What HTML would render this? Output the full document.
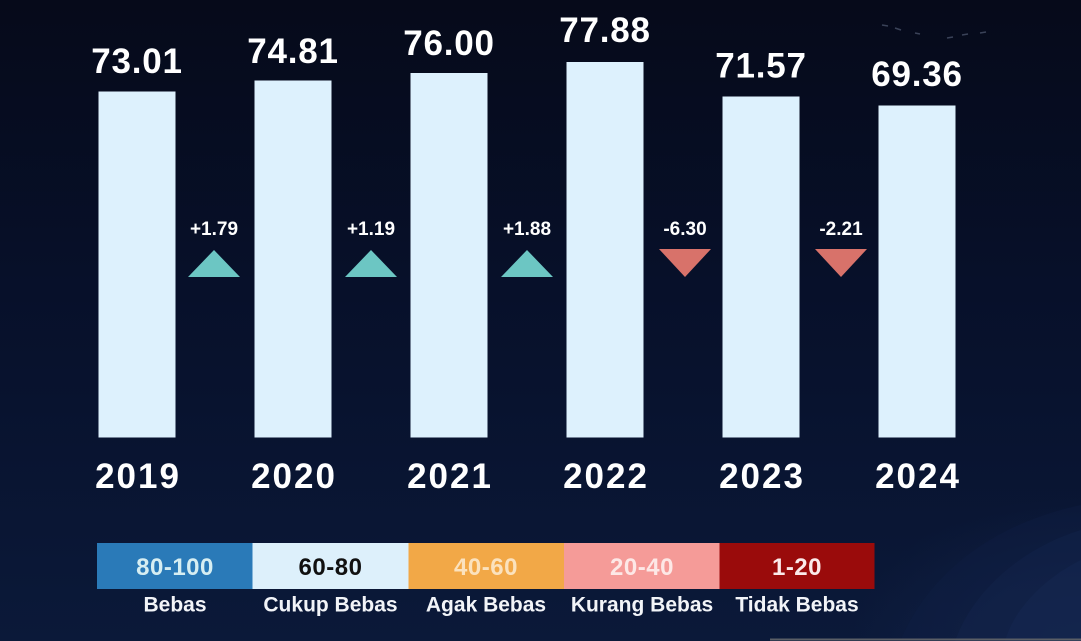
<!DOCTYPE html>
<html>
<head>
<meta charset="utf-8">
<style>
  html, body { margin:0; padding:0; }
  body { width:1081px; height:641px; overflow:hidden; background:#070c1f; }
  svg { display:block; }
  text { font-family: "Liberation Sans", "DejaVu Sans", sans-serif; font-weight:bold; }
</style>
</head>
<body>
<svg width="1081" height="641" viewBox="0 0 1081 641" xmlns="http://www.w3.org/2000/svg">
  <defs>
    <linearGradient id="bg" x1="0" y1="0" x2="0" y2="1">
      <stop offset="0" stop-color="#060a1a"/>
      <stop offset="0.45" stop-color="#07102a"/>
      <stop offset="1" stop-color="#0b1939"/>
    </linearGradient>
    <radialGradient id="glow" cx="1" cy="1" r="0.6">
      <stop offset="0" stop-color="#1a2c55" stop-opacity="0.55"/>
      <stop offset="1" stop-color="#1a2c55" stop-opacity="0"/>
    </radialGradient>
  </defs>
  <rect width="1081" height="641" fill="url(#bg)"/>
  <rect x="700" y="400" width="381" height="241" fill="url(#glow)"/>
  <!-- decorative curves bottom right -->
  <path d="M1081 505 C1010 520 935 560 900 641 L1081 641 Z" fill="#0f1f44" opacity="0.4"/>
  <path d="M1081 530 C1030 545 975 585 955 641 L1081 641 Z" fill="#13264d" opacity="0.4"/>
  <path d="M1081 560 C1050 575 1015 605 1005 641 L1081 641 Z" fill="#172b55" opacity="0.35"/>
  <line x1="770" y1="639.5" x2="1081" y2="639.5" stroke="#5a5e66" stroke-width="2"/>

  <!-- faint dashes top right -->
  <g stroke="#3a4258" stroke-width="1.5">
    <line x1="882" y1="25" x2="888" y2="26"/>
    <line x1="895" y1="28" x2="901" y2="30"/>
    <line x1="915" y1="33" x2="920" y2="34"/>
    <line x1="947" y1="38" x2="953" y2="37"/>
    <line x1="962" y1="35" x2="968" y2="34"/>
    <line x1="980" y1="33" x2="986" y2="32"/>
  </g>

  <!-- bars -->
  <g fill="#ddf1fd">
    <rect x="98.5" y="91.5" width="77" height="346"/>
    <rect x="254.5" y="80.5" width="77" height="357"/>
    <rect x="410.5" y="73" width="77" height="364.5"/>
    <rect x="566.5" y="62" width="77" height="375.5"/>
    <rect x="722.5" y="96.5" width="77" height="341"/>
    <rect x="878.5" y="105.5" width="77" height="332"/>
  </g>

  <!-- value labels -->
  <g fill="#ffffff" font-size="35" text-anchor="middle" letter-spacing="0.8">
    <text x="137" y="73">73.01</text>
    <text x="293" y="63">74.81</text>
    <text x="449" y="55">76.00</text>
    <text x="605" y="42">77.88</text>
    <text x="761" y="77.5">71.57</text>
    <text x="917" y="86">69.36</text>
  </g>

  <!-- delta labels -->
  <g fill="#ffffff" font-size="19" text-anchor="middle">
    <text x="214" y="235">+1.79</text>
    <text x="371" y="235">+1.19</text>
    <text x="527" y="235">+1.88</text>
    <text x="685" y="235">-6.30</text>
    <text x="841" y="235">-2.21</text>
  </g>

  <!-- triangles -->
  <g fill="#6cc6c3">
    <polygon points="188,277 240,277 214,250"/>
    <polygon points="345,277 397,277 371,250"/>
    <polygon points="501,277 553,277 527,250"/>
  </g>
  <g fill="#d8726a">
    <polygon points="659,249 711,249 685,277"/>
    <polygon points="815,249 867,249 841,277"/>
  </g>

  <!-- year labels -->
  <g fill="#ffffff" font-size="35" text-anchor="middle" letter-spacing="2">
    <text x="138" y="488">2019</text>
    <text x="294" y="488">2020</text>
    <text x="450" y="488">2021</text>
    <text x="606" y="488">2022</text>
    <text x="762" y="488">2023</text>
    <text x="918" y="488">2024</text>
  </g>

  <!-- legend -->
  <rect x="97" y="543" width="155.5" height="46" fill="#2a7ab8"/>
  <rect x="252.5" y="543" width="156" height="46" fill="#ddf0fb"/>
  <rect x="408.5" y="543" width="155.5" height="46" fill="#f2a847"/>
  <rect x="564" y="543" width="155.5" height="46" fill="#f59b98"/>
  <rect x="719.5" y="543" width="155" height="46" fill="#9a0b0b"/>

  <g font-size="24" text-anchor="middle" letter-spacing="0.5">
    <text x="175" y="575" fill="#d6eef2">80-100</text>
    <text x="330.5" y="575" fill="#111111">60-80</text>
    <text x="486" y="575" fill="#fbe2be">40-60</text>
    <text x="642" y="575" fill="#fde8e6">20-40</text>
    <text x="797" y="575" fill="#fbeaea">1-20</text>
  </g>
  <g font-size="21" text-anchor="middle" fill="#f2f4f8">
    <text x="175" y="611.5">Bebas</text>
    <text x="330.5" y="611.5">Cukup Bebas</text>
    <text x="486" y="611.5">Agak Bebas</text>
    <text x="642" y="611.5">Kurang Bebas</text>
    <text x="797" y="611.5">Tidak Bebas</text>
  </g>
</svg>
</body>
</html>
